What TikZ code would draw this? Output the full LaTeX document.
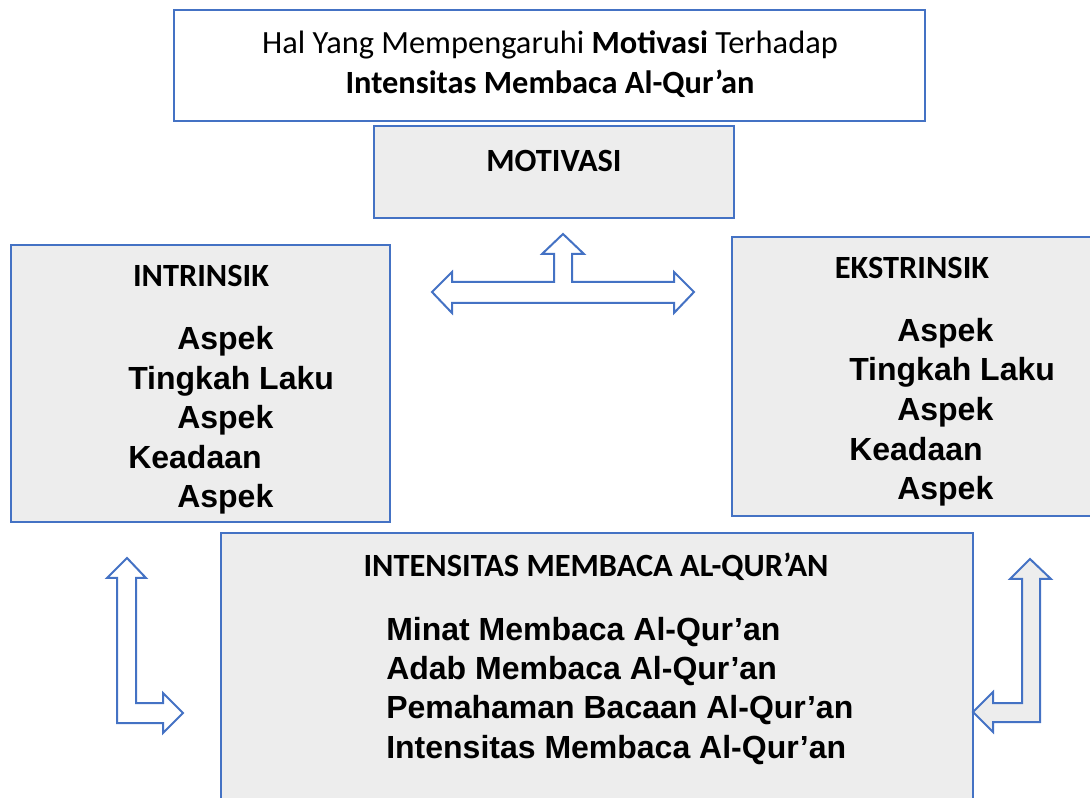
\documentclass[tikz,border=0pt]{standalone}
\usepackage{fontspec}
\setmainfont{Liberation Sans}
\newfontfamily\calib{Carlito}
\definecolor{myblue}{HTML}{4472C4}
\definecolor{mygray}{HTML}{EDEDED}
\begin{document}
\begin{tikzpicture}[x=0.75pt,y=-0.75pt,
  boxw/.style={draw=myblue,line width=1.5pt,fill=white},
  boxg/.style={draw=myblue,line width=1.5pt,fill=mygray},
  arrw/.style={draw=myblue,line width=1.5pt,fill=white,line join=miter},
  arrg/.style={draw=myblue,line width=1.5pt,fill=mygray,line join=miter},
  ttl/.style={font=\calib\fontsize{24.3}{29}\selectfont,inner sep=0},
  hdr/.style={font=\calib\bfseries\fontsize{24.3}{29}\selectfont,inner sep=0,anchor=base},
  bod/.style={font=\bfseries\fontsize{24}{29}\selectfont,inner sep=0,anchor=base west}]
\useasboundingbox (0,0) rectangle (1090,798);
\clip (0,0) rectangle (1090,798);
% boxes
\coordinate (t1) at (174,10); \coordinate (t2) at (925,121);
\coordinate (m1) at (374,126); \coordinate (m2) at (734,218);
\coordinate (i1) at (11,245); \coordinate (i2) at (390,522);
\coordinate (e1) at (732,237); \coordinate (e2) at (1100,516);
\coordinate (b1) at (221,533); \coordinate (b2) at (973,810);
\draw[boxw] (t1) rectangle (t2);
\draw[boxg] (m1) rectangle (m2);
\draw[boxg] (i1) rectangle (i2);
\draw[boxg] (e1) rectangle (e2);
\draw[boxg] (b1) rectangle (b2);
% title
\node[ttl,anchor=base] (tl1) at (550,54) {Hal Yang Mempengaruhi \textbf{Motivasi} Terhadap};
\node[ttl,anchor=base] (tl2) at (550,94) {\textbf{Intensitas Membaca Al-Qur’an}};
\node[hdr] (mot) at (554,172) {MOTIVASI};
% intrinsik
\node[hdr] (inh) at (201,287) {INTRINSIK};
\node[bod] (in1) at (177,350) {Aspek};
\node[bod] (in2) at (128,389.5) {Tingkah Laku};
\node[bod] (in3) at (177,429) {Aspek};
\node[bod] (in4) at (128,468.5) {Keadaan};
\node[bod] (in5) at (177,508) {Aspek};
% ekstrinsik
\node[hdr] (ekh) at (912,279) {EKSTRINSIK};
\node[bod] (ek1) at (897,342) {Aspek};
\node[bod] (ek2) at (849,381) {Tingkah Laku};
\node[bod] (ek3) at (897,421) {Aspek};
\node[bod] (ek4) at (849,461) {Keadaan};
\node[bod] (ek5) at (897,500) {Aspek};
% intensitas
\node[hdr] (bth) at (596,577) {INTENSITAS MEMBACA AL-QUR’AN};
\node[bod] (bt1) at (386,641) {Minat Membaca Al-Qur’an};
\node[bod] (bt2) at (386,680) {Adab Membaca Al-Qur’an};
\node[bod] (bt3) at (386,719) {Pemahaman Bacaan Al-Qur’an};
\node[bod] (bt4) at (386,758) {Intensitas Membaca Al-Qur’an};
% T arrow
\draw[arrw] (432,292) -- (452,272) -- (452,282) -- (554,282) -- (554,254) -- (542,254) -- (563,234)
  -- (584,254) -- (572,254) -- (572,282) -- (674,282) -- (674,272) -- (694,292) -- (674,313)
  -- (674,303) -- (452,303) -- (452,313) -- cycle;
% left L arrow
\draw[arrw] (127,558) -- (146,578) -- (136,578) -- (136,703) -- (163,703) -- (163,693) -- (183,713)
  -- (163,733) -- (163,723) -- (117,723) -- (117,578) -- (107,578) -- cycle;
% right L arrow
\draw[arrg] (1030,559) -- (1051,579) -- (1040,579) -- (1040,722) -- (993,722) -- (993,732) -- (973,712)
  -- (993,692) -- (993,703) -- (1022,703) -- (1022,579) -- (1010,579) -- cycle;
\end{tikzpicture}
\end{document}
